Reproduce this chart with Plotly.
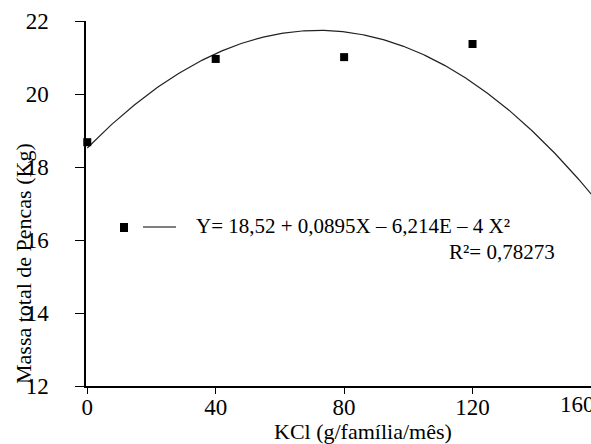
import numpy as np
import plotly.graph_objects as go

# Data
kcl_doses = [0, 40, 80, 120]
massa_pencas = [18.68, 20.96, 21.01, 21.37]
reg_coef = [18.52, 0.0895, -6.214e-4]  # Y = a + bX + cX^2
x_ticks = [0, 40, 80, 120]
y_ticks = [12, 14, 16, 18, 20, 22]
eq_text = "Y= 18,52 + 0,0895X – 6,214E – 4 X²"
r2_text = "R²= 0,78273"
x_title = "KCl (g/família/mês)"
y_title = "Massa total de Pencas (Kg)"

W, H = 591, 444
L, R, T, B = 86, 0, 21, 58
pw, ph = W - L - R, H - T - B


def px(xp):
    return (xp - L) / pw


def py(yp):
    return (H - B - yp) / ph


FONT = "Liberation Serif, Times New Roman, serif"

xc = np.linspace(0, 157.5, 300)
yc = reg_coef[0] + reg_coef[1] * xc + reg_coef[2] * xc ** 2

fig = go.Figure()
fig.add_trace(go.Scatter(x=xc, y=yc, mode="lines",
                         line=dict(color="#222222", width=1.2),
                         showlegend=False, hoverinfo="skip"))
fig.add_trace(go.Scatter(x=kcl_doses, y=massa_pencas, mode="markers",
                         marker=dict(symbol="square", size=8, color="black"),
                         showlegend=False, cliponaxis=False))

fig.update_layout(
    width=W, height=H,
    margin=dict(l=L, r=R, t=T, b=B, pad=0),
    paper_bgcolor="white", plot_bgcolor="white",
    font=dict(family=FONT, size=22, color="black"),
    xaxis=dict(range=[-0.4, 156.9], tickvals=x_ticks, ticktext=[str(v) for v in x_ticks],
               showline=True, linecolor="black", linewidth=1.5, showgrid=False, zeroline=False,
               ticks="outside", ticklen=6, tickcolor="black", tickwidth=1.2,
               ticklabelstandoff=-6,
               tickfont=dict(family=FONT, size=23)),
    yaxis=dict(range=[12, 22], tickvals=y_ticks, ticktext=[str(v) for v in y_ticks],
               showline=True, linecolor="black", linewidth=1.5, showgrid=False, zeroline=False,
               ticks="outside", ticklen=9, tickcolor="black", tickwidth=1.2,
               ticklabelstandoff=22,
               tickfont=dict(family=FONT, size=23)),
)

ann = [
    dict(text="160", x=px(558), y=py(405), xref="paper", yref="paper",
         xanchor="left", yanchor="middle", showarrow=False, font=dict(size=23)),
    dict(text=x_title, x=px(363), y=py(431), xref="paper", yref="paper",
         xanchor="center", yanchor="middle", showarrow=False, font=dict(size=22)),
    dict(text=y_title, x=px(23), y=py(264), xref="paper", yref="paper",
         xanchor="center", yanchor="middle", textangle=-90, showarrow=False, font=dict(size=22)),
    dict(text=eq_text, x=px(194), y=py(226), xref="paper", yref="paper",
         xanchor="left", yanchor="middle", showarrow=False, font=dict(size=21)),
    dict(text=r2_text, x=px(447), y=py(252), xref="paper", yref="paper",
         xanchor="left", yanchor="middle", showarrow=False, font=dict(size=21)),
]
fig.update_layout(annotations=ann)

fig.add_shape(type="rect", xref="paper", yref="paper",
              x0=px(120), x1=px(128), y0=py(232), y1=py(223),
              fillcolor="black", line=dict(width=0))
fig.add_shape(type="line", xref="paper", yref="paper",
              x0=px(143), x1=px(176), y0=py(227), y1=py(227),
              line=dict(color="black", width=1.2))

fig.write_html("out.html")
